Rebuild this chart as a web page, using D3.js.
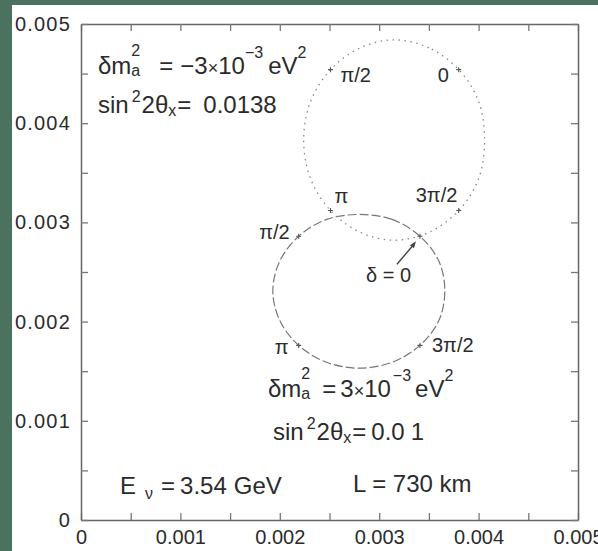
<!DOCTYPE html>
<html>
<head>
<meta charset="utf-8">
<script src="https://cdn.jsdelivr.net/npm/d3@7"></script>
<style>
  html, body { margin: 0; padding: 0; background: #4a725f; }
  svg { display: block; }
  text { font-family: "Liberation Sans", Arial, Helvetica, sans-serif; fill: #2b2b2b; }
</style>
</head>
<body>
<svg id="chart" width="598" height="551"></svg>
<script>
// CP trajectories: P(nu_mu -> nu_e) on x, P(anti) on y, delta stepped by pi/8 from 0
const deltaLabels = ["0", "π/2", "π", "3π/2"];

// negative delta m^2 (dotted curve)
const pNuNeg    = [0.00380, 0.00350, 0.00315, 0.00281, 0.00251, 0.00231, 0.00224, 0.00231,
                   0.00251, 0.00281, 0.00315, 0.00350, 0.00380, 0.00400, 0.00406, 0.00400];
const pNubarNeg = [0.00454, 0.00476, 0.00484, 0.00476, 0.00454, 0.00422, 0.00383, 0.00344,
                   0.00312, 0.00290, 0.00282, 0.00290, 0.00312, 0.00344, 0.00383, 0.00422];

// positive delta m^2 (dashed curve)
const pNuPos    = [0.00341, 0.00313, 0.00280, 0.00247, 0.00219, 0.00200, 0.00193, 0.00200,
                   0.00219, 0.00247, 0.00280, 0.00313, 0.00341, 0.00360, 0.00366, 0.00360];
const pNubarPos = [0.00286, 0.00303, 0.00308, 0.00303, 0.00286, 0.00261, 0.00231, 0.00201,
                   0.00176, 0.00159, 0.00153, 0.00159, 0.00176, 0.00201, 0.00231, 0.00261];

// axis ticks
const majorTicks = [0, 0.001, 0.002, 0.003, 0.004, 0.005];
const tickLabels = ["0", "0.001", "0.002", "0.003", "0.004", "0.005"];
const minorTicks = [0.0005, 0.0015, 0.0025, 0.0035, 0.0045];

const svg = d3.select("#chart");

// white page area
svg.append("rect").attr("x", 12).attr("y", 5).attr("width", 586).attr("height", 546).attr("fill", "#ffffff");

const x = d3.scaleLinear().domain([0, 0.005]).range([81, 578]);
const y = d3.scaleLinear().domain([0, 0.005]).range([520, 24]);

const allTicks = majorTicks.concat(minorTicks).sort(d3.ascending);
const fmt = d => { const i = majorTicks.indexOf(d); return i >= 0 ? tickLabels[i] : ""; };

function styleAxis(g) {
  g.select(".domain").attr("stroke", "#666").attr("stroke-width", 1.5);
  g.selectAll(".tick line").attr("stroke", "#777").attr("stroke-width", 1.3);
  g.selectAll("text").attr("fill", "#2b2b2b").style("font-family", '"Liberation Sans", Arial, sans-serif');
}

// bottom
svg.append("g").attr("transform", `translate(0,${y(0)})`)
  .call(d3.axisBottom(x).tickValues(allTicks).tickFormat(fmt).tickSize(-7).tickSizeOuter(0).tickPadding(10))
  .call(styleAxis)
  .call(g => g.selectAll("text").style("font-size", "20px"));
// top
svg.append("g").attr("transform", `translate(0,${y(0.005)})`)
  .call(d3.axisTop(x).tickValues(allTicks).tickFormat("").tickSize(-7).tickSizeOuter(0))
  .call(styleAxis);
// left
svg.append("g").attr("transform", `translate(${x(0)},0)`)
  .call(d3.axisLeft(y).tickValues(allTicks).tickFormat(fmt).tickSize(-7).tickSizeOuter(0).tickPadding(10))
  .call(styleAxis)
  .call(g => g.selectAll("text").style("font-size", "20px").style("letter-spacing", "1.2px"));
// right
svg.append("g").attr("transform", `translate(${x(0.005)},0)`)
  .call(d3.axisRight(y).tickValues(allTicks).tickFormat("").tickSize(-7).tickSizeOuter(0))
  .call(styleAxis);

// trajectories
const line = d3.line().x(d => x(d[0])).y(d => y(d[1])).curve(d3.curveCatmullRomClosed.alpha(0.5));
const negPts = pNuNeg.map((v, i) => [v, pNubarNeg[i]]);
const posPts = pNuPos.map((v, i) => [v, pNubarPos[i]]);

svg.append("path").attr("d", line(posPts)).attr("fill", "none")
  .attr("stroke", "#777").attr("stroke-width", 1.2).attr("stroke-dasharray", "9,3");
svg.append("path").attr("d", line(negPts)).attr("fill", "none")
  .attr("stroke", "#888").attr("stroke-width", 1.3).attr("stroke-dasharray", "1.5,4.5");

// markers at delta = 0, pi/2, pi, 3pi/2
function markers(pts) {
  [0, 4, 8, 12].forEach(i => {
    const cx = x(pts[i][0]), cy = y(pts[i][1]);
    svg.append("path").attr("d", `M${cx - 2.5},${cy}H${cx + 2.5}M${cx},${cy - 2.5}V${cy + 2.5}`)
      .attr("stroke", "#555").attr("stroke-width", 1.1);
  });
}
markers(negPts);
markers(posPts);

// delta labels next to the markers
function deltaText(pts, i, dx, dy, label, anchor) {
  svg.append("text").attr("x", x(pts[i][0]) + dx).attr("y", y(pts[i][1]) + dy)
    .attr("text-anchor", anchor || "start").style("font-size", "20px").text(label);
}
deltaText(negPts, 0, -21, 12, deltaLabels[0]);
deltaText(negPts, 4, 10, 12, deltaLabels[1]);
deltaText(negPts, 8, 4, -7, deltaLabels[2]);
deltaText(negPts, 12, -43, -8, deltaLabels[3]);
deltaText(posPts, 4, -9, 3, deltaLabels[1], "end");
deltaText(posPts, 8, -24, 9, deltaLabels[2]);
deltaText(posPts, 12, 12, 7, deltaLabels[3]);
deltaText(posPts, 0, -54, 46, "δ = 0");

// arrow pointing at delta = 0 on the dashed curve
const ax = x(posPts[0][0]), ay = y(posPts[0][1]);
svg.append("line").attr("x1", ax - 23).attr("y1", ay + 28).attr("x2", ax - 6).attr("y2", ay + 8)
  .attr("stroke", "#444").attr("stroke-width", 1.4);
svg.append("path").attr("d", `M${ax - 4},${ay + 5}L${ax - 10},${ay + 9}L${ax - 6},${ay + 12}Z`).attr("fill", "#444");

// rich text with super/subscripts; shift > 0 raises the run
function rich(px, py, parts) {
  const t = svg.append("text").attr("x", px).attr("y", py);
  let cur = 0;
  parts.forEach(p => {
    const s = p.shift || 0;
    t.append("tspan").attr("dy", cur - s).attr("dx", p.dx || 0)
      .style("font-size", (p.size || 24) + "px").text(p.t);
    cur = s;
  });
}

rich(98, 74, [
  { t: "δm" }, { t: "2", size: 16, shift: 18 }, { t: "a", size: 16, dx: -8.9, shift: -2 },
  { t: "=", dx: 19 }, { t: "−3", dx: 7 }, { t: "×", size: 18 },
  { t: "10" }, { t: "−3", size: 16, shift: 16 }, { t: "eV", dx: 5 }, { t: "2", size: 16, shift: 16 }
]);
rich(98, 113, [
  { t: "sin" }, { t: "2", size: 16, shift: 11, dx: 3 }, { t: "2θ", dx: 1 }, { t: "x", size: 16, shift: -3 },
  { t: "=", dx: 1 }, { t: "0.0138", dx: 12 }
]);

rich(268, 397, [
  { t: "δm" }, { t: "2", size: 16, shift: 18 }, { t: "a", size: 16, dx: -8.9, shift: -2 },
  { t: "=", dx: 12 }, { t: "3", dx: 4 }, { t: "×", size: 18 },
  { t: "10" }, { t: "−3", size: 16, shift: 16, dx: 2 }, { t: "eV", dx: 4 }, { t: "2", size: 16, shift: 16 }
]);
rich(273, 440, [
  { t: "sin" }, { t: "2", size: 16, shift: 11, dx: 3 }, { t: "2θ", dx: 1 }, { t: "x", size: 16, shift: -3 },
  { t: "=", dx: 1 }, { t: "0.0", dx: 5 }, { t: "1", dx: 6 }
]);

rich(120, 494, [
  { t: "E" }, { t: "ν", size: 16, dx: 9, shift: -5 }, { t: "=", dx: 8 }, { t: "3.54", dx: 5 }, { t: "GeV", dx: 7 }
]);
rich(353, 492, [{ t: "L = 730 km" }]);
</script>
</body>
</html>
